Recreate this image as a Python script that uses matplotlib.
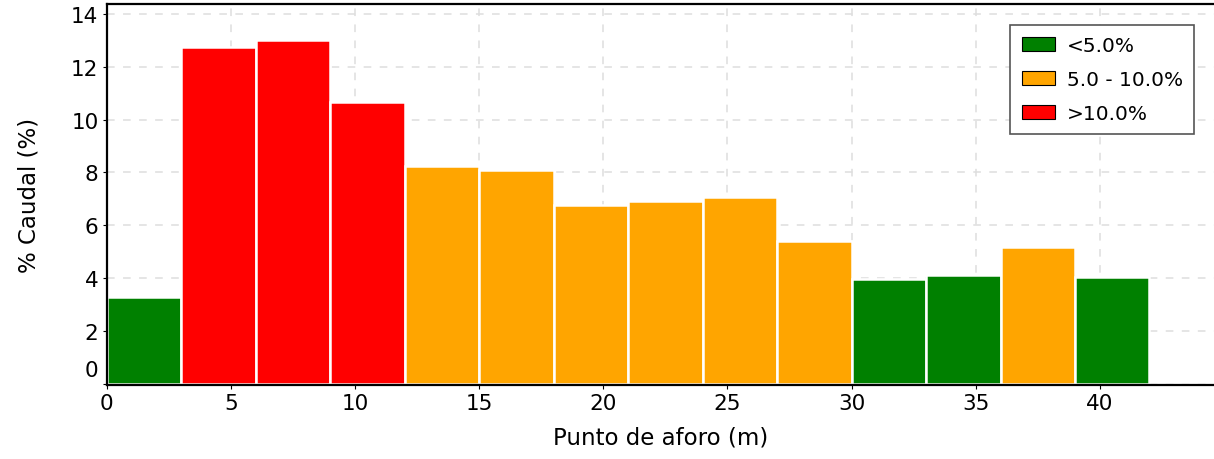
#!/usr/bin/env python3
""" Bar chart of discharge percentage per gauging point. """

import matplotlib
matplotlib.use('Agg')
import matplotlib.pyplot as plt
import matplotlib.transforms as mtransforms
from matplotlib.patches import Patch

# Gauging points (left edge of each section, m) and discharge share (%)
puntos = [0, 3, 6, 9, 12, 15, 18, 21, 24, 27, 30, 33, 36, 39, 42]
caudal = [3.28, 12.75, 13.02, 10.68, 8.26, 8.11, 6.75, 6.90, 7.06,
          5.40, 3.96, 4.11, 5.17, 4.04, 0.0]

# Class labels and colours
clases = ['<5.0%', '5.0 - 10.0%', '>10.0%']
colores = ['#008000', '#FFA500', '#FF0000']


def color_for(v):
    # Pick the colour class of one value
    if v < 5.0:
        return colores[0]
    if v <= 10.0:
        return colores[1]
    return colores[2]


plt.rcParams['font.family'] = ['DejaVu Sans']
fig = plt.figure(figsize=(12.14, 4.6), dpi=100)
ax = fig.add_axes([0.088, 0.161, 0.912, 0.828])

ax.bar(puntos, caudal, width=3, align='edge',
       color=[color_for(v) for v in caudal],
       edgecolor='white', linewidth=1.8, zorder=2)

ax.set_xlim(0, 44.6)
ax.set_ylim(-0.05, 14.38)
ax.set_xticks(range(0, 45, 5))
ax.set_yticks(range(0, 15, 2))
ax.tick_params(labelsize=15.5, length=3, width=0.8, pad=3)

# The zero label sits a bit above its tick in the original
fig.canvas.draw()
lab0 = ax.get_yticklabels()[0]
lab0.set_transform(lab0.get_transform() +
                   mtransforms.ScaledTranslation(0, 11 / 72, fig.dpi_scale_trans))

# Dashed light grid behind the bars
ax.grid(True, linestyle=(0, (5, 5.5)), color='#dedede', linewidth=1.1, zorder=0)
ax.set_axisbelow(True)

for s in ['left', 'bottom', 'top']:
    ax.spines[s].set_linewidth(1.6)
ax.spines['right'].set_visible(False)

ax.set_xlabel('Punto de aforo (m)', fontsize=16.5, labelpad=9)
ax.set_ylabel('% Caudal (%)', fontsize=16.5, labelpad=22)

handles = [Patch(facecolor=c, edgecolor='black', linewidth=0.8) for c in colores]
leg = ax.legend(handles, clases, loc='upper right', fontsize=14.5,
                bbox_to_anchor=(0.982, 0.945), borderaxespad=0,
                fancybox=False, edgecolor='#555555', framealpha=1,
                handlelength=1.65, handleheight=0.65, labelspacing=0.75,
                borderpad=0.55, handletextpad=0.6)
leg.get_frame().set_linewidth(1.2)

fig.savefig('out.png', dpi=100)
